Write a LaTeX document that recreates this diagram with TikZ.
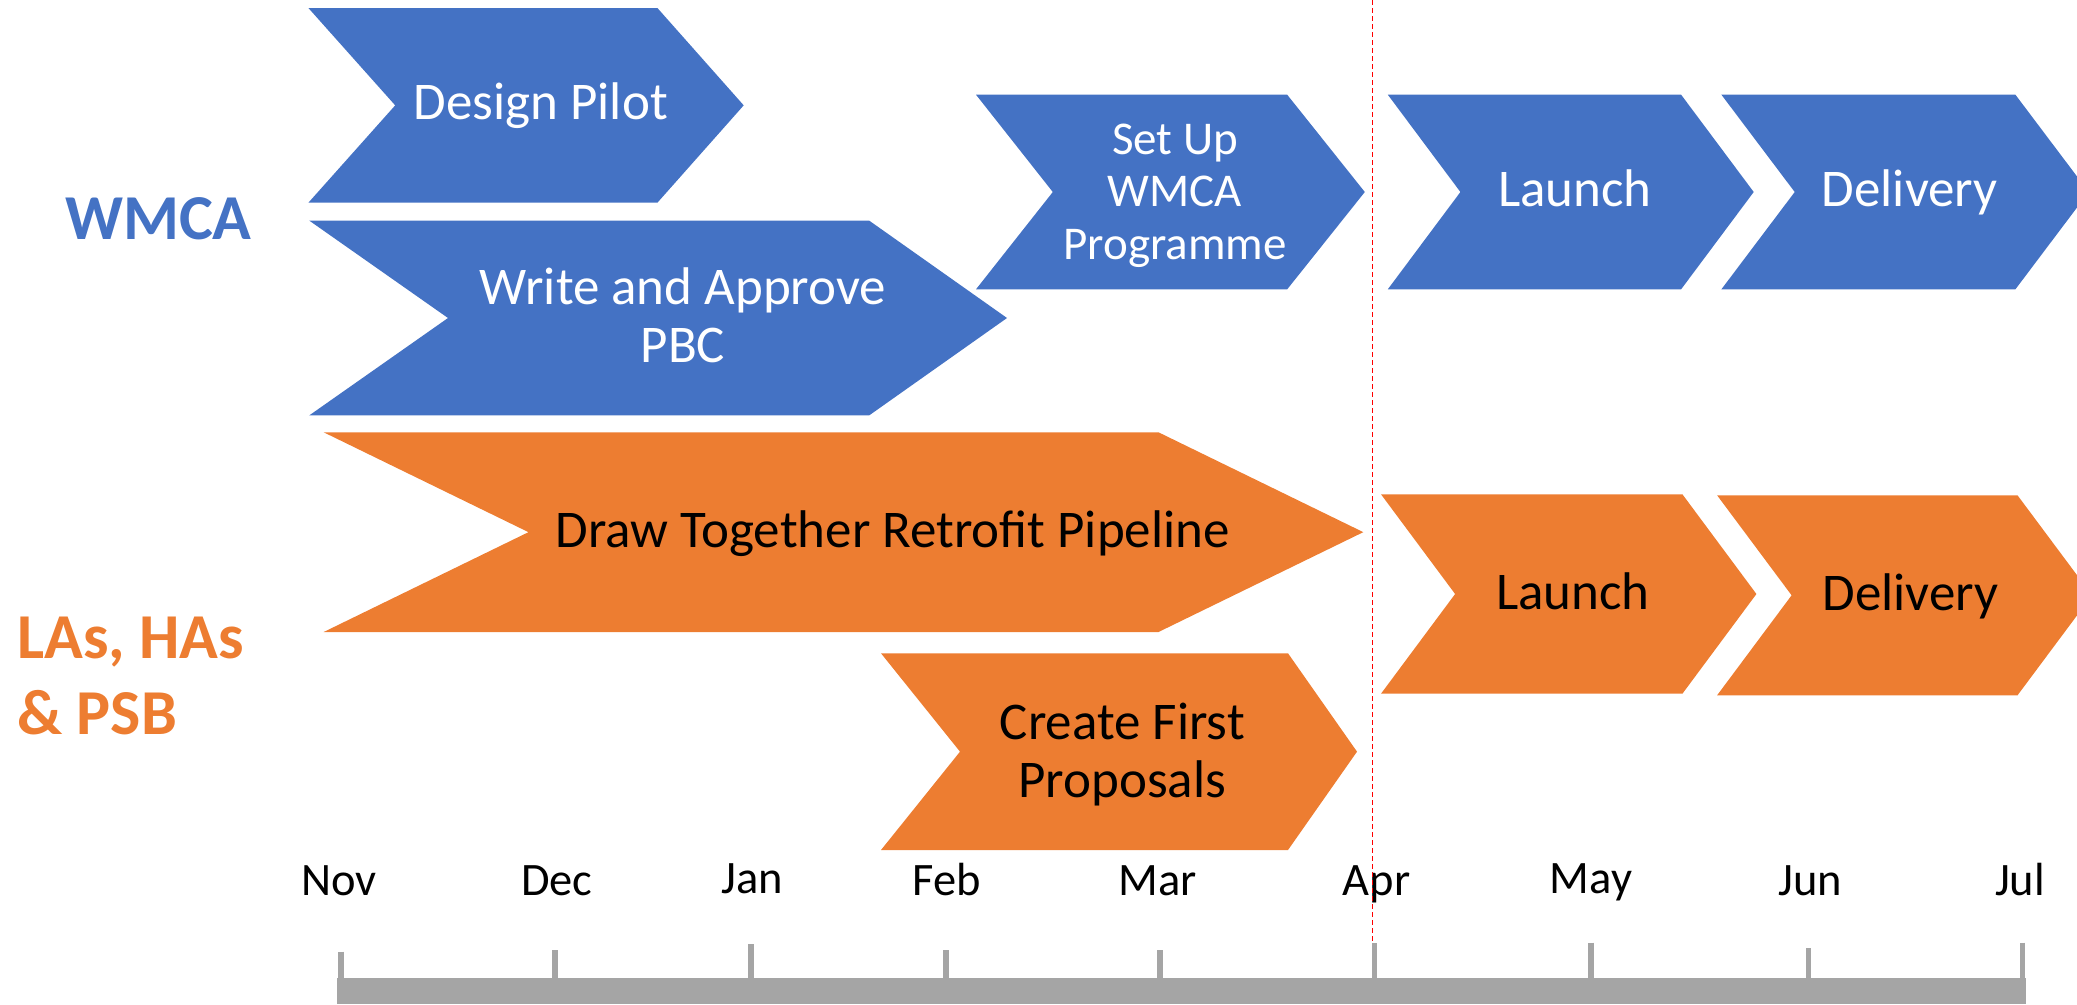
\documentclass[tikz,border=0pt]{standalone}
\usepackage{fontspec}
\setmainfont{Carlito}
\definecolor{wblue}{HTML}{4472C4}
\definecolor{worange}{HTML}{ED7D31}
\definecolor{tgray}{HTML}{A5A5A5}
% #1 left, #2 notch, #3 base, #4 tip, #5 top, #6 bottom, #7 colour
\newcommand\mychev[7]{\fill[#7] (#1,#5) -- (#3,#5) -- (#4,{(#5+#6)/2}) -- (#3,#6) -- (#1,#6) -- (#2,{(#5+#6)/2}) -- cycle;}
\tikzset{
  btxt/.style={text=white, font=\fontsize{53}{58}\selectfont, inner sep=0pt},
  otxt/.style={text=black, font=\fontsize{53}{58}\selectfont, inner sep=0pt},
  month/.style={font=\fontsize{46.5}{52}\selectfont, anchor=base, inner sep=0pt},
  tickmark/.style={draw=tgray, line width=5.5pt},
  grp/.style={font=\bfseries\fontsize{64}{76}\selectfont, anchor=base west, inner sep=0pt},
  deadline/.style={draw=red, line width=1.5pt, dash pattern=on 5pt off 3pt},
}
\begin{document}
\begin{tikzpicture}[x=1pt,y=-1pt]
\useasboundingbox (0,0) rectangle (2077,1004);
\begin{scope}
\clip (0,0) rectangle (2077,1004);
% WMCA chevrons
\mychev{308.4}{395.2}{657.4}{743.7}{8}{202.7}{wblue}
\mychev{309.4}{448}{869.3}{1007}{220.7}{415.3}{wblue}
\mychev{976}{1052.8}{1287.2}{1364.8}{94.7}{289.3}{wblue}
\mychev{1387.8}{1460.4}{1681.1}{1753.7}{94.7}{289.3}{wblue}
\mychev{1721.4}{1794.7}{2015.4}{2088.7}{94.7}{289.3}{wblue}
% LAs chevrons
\mychev{323.7}{528.5}{1158.5}{1363.3}{432.3}{632}{worange}
\mychev{881}{960}{1288}{1357}{653.3}{850}{worange}
\mychev{1381}{1455.1}{1682.4}{1756.4}{494.3}{693.7}{worange}
\mychev{1717.1}{1791.6}{2017.5}{2092}{495.3}{695.3}{worange}
% texts
\node[btxt, anchor=base] (dp) at (540.8,119.3) {Design Pilot};
\node[btxt, align=center] (pbc) at (682.9,315.5) {Write and Approve\\PBC};
\node[btxt, align=center, font=\fontsize{47}{52.5}\selectfont] (setup) at (1175,195.5) {Set Up\\WMCA\\Programme};
\node[btxt, anchor=base] (lb) at (1575,206.7) {Launch};
\node[btxt, anchor=base] (db) at (1909.7,206.7) {Delivery};
\node[otxt, anchor=base] (dt) at (892.6,547.3) {Draw Together Retrofit Pipeline};
\node[otxt, align=center] (cfp) at (1122.3,754.5) {Create First\\Proposals};
\node[otxt, anchor=base] (lo) at (1572.8,609) {Launch};
\node[otxt, anchor=base] (do) at (1910.3,610) {Delivery};
% group labels
\node[grp, text=wblue] (gw) at (65,239) {WMCA};
\node[grp, text=worange] (gl1) at (17,658) {LAs, HAs};
\node[grp, text=worange] (gl2) at (17,734.4) {\& PSB};
% timeline
\fill[tgray] (337.4,978) rectangle (2026,1004);
\foreach \x/\t in {340.8/951.7, 555/950, 751/944.3, 946/950, 1160/950, 1374.3/943, 1590.8/942.7, 1808.4/948, 2022.6/942.7}
  \draw[tickmark] (\x,\t) -- (\x,980);
\node[month] (mnov) at (339,895.7) {Nov};
\node[month] (mdec) at (556.7,895.7) {Dec};
\node[month] (mjan) at (752,893.3) {Jan};
\node[month] (mfeb) at (946.5,895.7) {Feb};
\node[month] (mmar) at (1158,895.7) {Mar};
\node[month] (mapr) at (1376.6,895.7) {Apr};
\node[month] (mmay) at (1591,893.3) {May};
\node[month] (mjun) at (1810,895.7) {Jun};
\node[month] (mjul) at (2020,895) {Jul};
% deadline
\coordinate (dtop) at (1372.5,0);
\coordinate (dbot) at (1372.5,943);
\draw[deadline] (dtop) -- (dbot);
\end{scope}
\end{tikzpicture}
\end{document}
